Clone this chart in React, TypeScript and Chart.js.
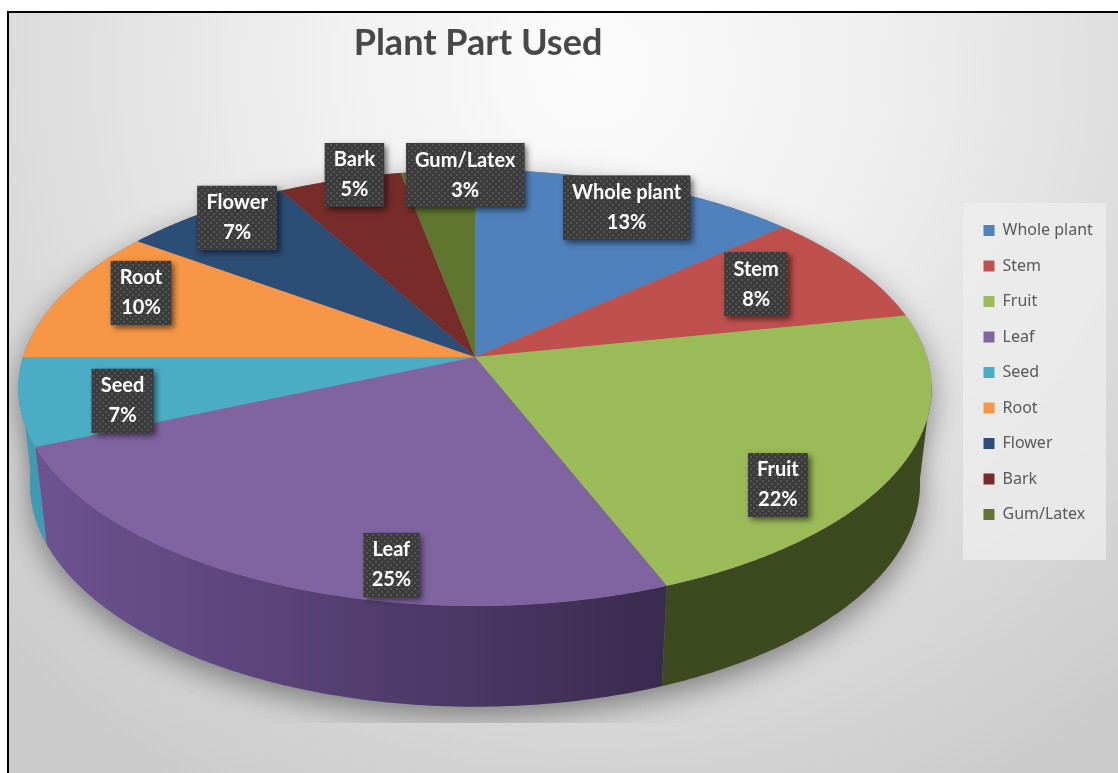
import React, { useEffect, useRef } from "react";
import { Chart, registerables } from "chart.js";

Chart.register(...registerables);

const titleText = "Plant Part Used";
const categories = ["Whole plant", "Stem", "Fruit", "Leaf", "Seed", "Root", "Flower", "Bark", "Gum/Latex"];
const shares = [13.4, 8.4, 22.2, 24.5, 6.5, 10, 7, 5, 3];
const topColors = ["#4f81bd", "#c0504d", "#9bbb59", "#8064a2", "#4bacc6", "#f79646", "#2c4d75", "#772c2a", "#5f7530"];
const wallFrom = ["#3b608e", "#90403c", "#3d4a20", "#3a2a4e", "#3f9ab4", "#b87034", "#213a58", "#592120", "#475824"];
const wallTo = ["#3b608e", "#90403c", "#3d4a20", "#6d5392", "#3f9ab4", "#b87034", "#213a58", "#592120", "#475824"];
const labelNudges = [[30, -21], [3, -7], [2, 51], [54, 51], [-27, 12], [-34, -18], [-38, -32], [-20, -50], [18, -43]];

const DEG = Math.PI / 180;
const TOP = { cx: 475, cy: 357, a: 452, b: 213.6, p: 0.1422 };
const BASE = { cx: 475, cy: 452, a: 440.5, b: 218.5, p: 0.1422 };
const pt = (g: typeof TOP, ang: number, r = 1) => {
  const X = r * Math.cos(ang);
  const Y = r * Math.sin(ang);
  const d = 1 - g.p * Y;
  return [g.cx + (g.a * X) / d, g.cy + (g.b * Y) / d];
};

function rimPath(ctx: CanvasRenderingContext2D, g: typeof TOP, from: number, to: number, move: boolean) {
  const steps = Math.max(2, Math.ceil(Math.abs(to - from) / (0.5 * DEG)));
  for (let i = 0; i <= steps; i++) {
    const [x, y] = pt(g, from + ((to - from) * i) / steps);
    if (i === 0 && move) ctx.moveTo(x, y);
    else ctx.lineTo(x, y);
  }
}

function dotPattern(ctx: CanvasRenderingContext2D) {
  const c = document.createElement("canvas");
  c.width = 6;
  c.height = 6;
  const p = c.getContext("2d")!;
  p.fillStyle = "#3b3b3b";
  p.fillRect(0, 0, 6, 6);
  p.fillStyle = "#555555";
  p.fillRect(0, 0, 2, 2);
  p.fillRect(3, 3, 2, 2);
  return ctx.createPattern(c, "repeat")!;
}

const pie3d = {
  id: "pie3d",
  afterLayout(chart: any) {
    const t = chart.titleBlock;
    t.left = 478 - 335;
    t.right = 478 + 335;
    t.top = 14;
    t.bottom = 70;
    const l = chart.legend;
    l.left = 964;
    l.right = 1106;
    l.top = 203;
    l.bottom = 562;
  },
  beforeDraw(chart: any) {
    const { ctx, width, height } = chart;
    ctx.save();
    ctx.fillStyle = "#ffffff";
    ctx.fillRect(0, 0, width, height);
    const g = ctx.createRadialGradient(590, 70, 0, 590, 70, 830);
    g.addColorStop(0, "#fcfcfc");
    g.addColorStop(0.35, "#efefef");
    g.addColorStop(0.7, "#dbdbdb");
    g.addColorStop(1, "#cbcbcb");
    ctx.fillStyle = g;
    ctx.fillRect(7, 11, width - 7, height - 11);
    ctx.fillStyle = "#000000";
    ctx.fillRect(7, 11, width - 7, 2);
    ctx.fillRect(7, 11, 2, height - 11);
    ctx.fillStyle = "rgba(238,238,238,0.75)";
    ctx.fillRect(963, 203, 143, 357);
    ctx.restore();
  },
  beforeDatasetsDraw(chart: any) {
    const { ctx } = chart;
    const arcs = chart.getDatasetMeta(0).data;

    // soft drop shadow under the disc
    ctx.save();
    ctx.beginPath();
    ctx.rect(9, 13, 954, 710);
    ctx.clip();
    ctx.shadowColor = "rgba(0,0,0,0.42)";
    ctx.shadowBlur = 30;
    ctx.shadowOffsetY = 10;
    ctx.fillStyle = "#888888";
    ctx.beginPath();
    rimPath(ctx, BASE, 0, Math.PI * 2, true);
    ctx.closePath();
    ctx.fill();
    ctx.beginPath();
    rimPath(ctx, TOP, 0, Math.PI * 2, true);
    ctx.closePath();
    ctx.fill();
    ctx.restore();

    // side wall
    const lo = 7 * DEG;
    const hi = 175 * DEG;
    arcs.forEach((arc: any, i: number) => {
      const s = Math.max(arc.startAngle, lo);
      const e = Math.min(arc.endAngle, hi);
      if (e <= s) return;
      const x0 = pt(TOP, s)[0];
      const x1 = pt(TOP, e)[0];
      const g = ctx.createLinearGradient(x0, 0, x1, 0);
      g.addColorStop(0, wallFrom[i]);
      g.addColorStop(1, wallTo[i]);
      ctx.fillStyle = g;
      ctx.beginPath();
      rimPath(ctx, TOP, s, e, true);
      rimPath(ctx, BASE, e, s, false);
      ctx.closePath();
      ctx.fill();
    });

    // top face
    arcs.forEach((arc: any) => {
      ctx.fillStyle = arc.options.backgroundColor;
      ctx.beginPath();
      ctx.moveTo(TOP.cx, TOP.cy);
      rimPath(ctx, TOP, arc.startAngle, arc.endAngle, false);
      ctx.closePath();
      ctx.fill();
    });

    // data labels
    const pattern = dotPattern(ctx);
    ctx.font = "bold 20px Lato";
    ctx.textAlign = "center";
    ctx.textBaseline = "middle";
    arcs.forEach((arc: any, i: number) => {
      const [ax, ay] = pt(TOP, (arc.startAngle + arc.endAngle) / 2, 0.72);
      const x = ax + labelNudges[i][0];
      const y = ay + labelNudges[i][1];
      const w = ctx.measureText(categories[i]).width + 18;
      ctx.save();
      ctx.shadowColor = "rgba(0,0,0,0.55)";
      ctx.shadowBlur = 6;
      ctx.shadowOffsetX = 3;
      ctx.shadowOffsetY = 3;
      ctx.fillStyle = "#3b3b3b";
      ctx.fillRect(x - w / 2, y - 32, w, 64);
      ctx.restore();
      ctx.fillStyle = pattern;
      ctx.fillRect(x - w / 2, y - 32, w, 64);
      ctx.fillStyle = "#ffffff";
      ctx.fillText(categories[i], x, y - 15);
      ctx.fillText(Math.round(shares[i]) + "%", x, y + 15);
    });
    return false;
  },
};

export default function App() {
  const ref = useRef<HTMLCanvasElement>(null);
  useEffect(() => {
    const chart = new Chart(ref.current!, {
      type: "pie",
      data: {
        labels: categories,
        datasets: [{ data: shares, backgroundColor: topColors, borderWidth: 0 }],
      },
      options: {
        responsive: false,
        animation: false,
        devicePixelRatio: 1,
        plugins: {
          title: {
            display: true,
            text: titleText,
            color: "#484848",
            font: { family: "Lato", size: 36, weight: "bold" },
            padding: { top: 8, bottom: 8 },
          },
          legend: {
            display: true,
            position: "right",
            align: "start",
            labels: {
              color: "#595959",
              font: { family: "Noto Sans", size: 16 },
              boxWidth: 11,
              boxHeight: 11,
              padding: 19.5,
            },
          },
          tooltip: { enabled: false },
        },
      } as any,
      plugins: [pie3d as any],
    });
    return () => chart.destroy();
  }, []);
  return (
    <div style={{ position: "fixed", left: 0, top: 0, width: 1118, height: 773 }}>
      <canvas ref={ref} width={1118} height={773} style={{ display: "block" }} />
    </div>
  );
}
